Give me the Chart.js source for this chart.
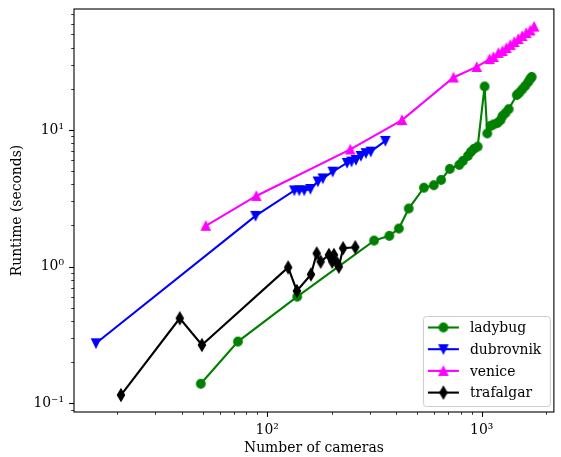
<!DOCTYPE html>
<html>
<head>
<meta charset="utf-8">
<script src="https://cdn.jsdelivr.net/npm/chart.js@4.4.0/dist/chart.umd.min.js"></script>
<style>
  html, body { margin: 0; padding: 0; background: #fff; }
</style>
</head>
<body>
<canvas id="chart" width="561" height="457"></canvas>
<script>
// ---- data ----
const ladybugCams  = [49, 73, 138, 315, 371, 411, 457, 538, 598, 647, 710, 786, 817, 862, 890, 919, 958, 1032, 1062, 1100, 1136, 1185, 1225, 1250, 1291, 1336, 1458, 1497, 1546, 1596, 1648, 1684, 1711];
const ladybugTimes = [0.139, 0.283, 0.603, 1.55, 1.68, 1.90, 2.66, 3.78, 3.94, 4.31, 5.19, 5.55, 5.93, 6.45, 6.90, 7.26, 7.55, 20.8, 9.43, 10.7, 10.97, 11.25, 11.8, 12.66, 13.3, 14.2, 18.0, 18.7, 19.8, 21.0, 22.4, 23.6, 24.4];

const dubrovnikCams  = [15.9, 88.2, 133.8, 141.1, 148.8, 159, 172.3, 181.7, 202, 235.7, 247.3, 259.4, 273.5, 288.5, 304, 355.6];
const dubrovnikTimes = [0.275, 2.35, 3.61, 3.61, 3.61, 3.70, 4.20, 4.42, 4.95, 5.74, 5.87, 6.03, 6.45, 6.76, 6.94, 8.31];

const veniceCams  = [51.7, 88.9, 244, 425, 739, 948, 1089, 1136, 1197, 1250, 1304, 1361, 1420, 1482, 1546, 1614, 1684, 1756];
const veniceTimes = [1.99, 3.29, 7.2, 11.8, 24.2, 28.9, 33.0, 34.2, 36.6, 37.8, 39.8, 41.9, 44.0, 46.3, 48.7, 51.2, 53.4, 57.0];

const trafalgarCams  = [20.8, 39.1, 49.6, 125.2, 137.5, 160, 170.1, 177.5, 194, 201, 204.7, 212, 215.8, 225.9, 257.5];
const trafalgarTimes = [0.115, 0.419, 0.267, 0.987, 0.664, 0.877, 1.249, 1.088, 1.218, 1.088, 1.218, 1.059, 1.0, 1.363, 1.387];

const xMajorTicks  = [100, 1000];
const xTickLabels  = ["10\u00B2", "10\u00B3"];
const xMinorTicks  = [20, 30, 40, 50, 60, 70, 80, 90, 200, 300, 400, 500, 600, 700, 800, 900, 2000];
const yMajorTicks  = [0.1, 1, 10];
const yTickLabels  = ["10\u207B\u00B9", "10\u2070", "10\u00B9"];
const yMinorTicks  = [0.09, 0.2, 0.3, 0.4, 0.5, 0.6, 0.7, 0.8, 0.9, 2, 3, 4, 5, 6, 7, 8, 9, 20, 30, 40, 50, 60, 70];

const fontFamily = "'DejaVu Serif', serif";
const fontSize = 13.9;

// ---- matplotlib-like marker glyphs ----
const makeMarker = (shape, color) => {
  const c = document.createElement("canvas");
  c.width = 18; c.height = 18;
  const g = c.getContext("2d");
  g.translate(9, 9);
  g.beginPath();
  if (shape === "up") {
    g.moveTo(0, -4.2); g.lineTo(4.2, 4.2); g.lineTo(-4.2, 4.2);
  } else if (shape === "down") {
    g.moveTo(0, 4.2); g.lineTo(4.2, -4.2); g.lineTo(-4.2, -4.2);
  } else if (shape === "thin_diamond") {
    g.moveTo(0, -5.9); g.lineTo(3.5, 0); g.lineTo(0, 5.9); g.lineTo(-3.5, 0);
  } else {
    g.arc(0, 0, 4.2, 0, Math.PI * 2);
  }
  g.closePath();
  g.fillStyle = color; g.fill();
  g.lineWidth = 1.4; g.strokeStyle = color; g.stroke();
  return c;
};

const SERIES = [
  { label: "ladybug",   xs: ladybugCams,   ys: ladybugTimes,   color: "#008000", marker: makeMarker("circle", "#008000") },
  { label: "dubrovnik", xs: dubrovnikCams, ys: dubrovnikTimes, color: "#0000ff", marker: makeMarker("down", "#0000ff") },
  { label: "venice",    xs: veniceCams,    ys: veniceTimes,    color: "#ff00ff", marker: makeMarker("up", "#ff00ff") },
  { label: "trafalgar", xs: trafalgarCams, ys: trafalgarTimes, color: "#000000", marker: makeMarker("thin_diamond", "#000000") }
];

// ---- frame, ticks and legend drawn matplotlib-style ----
const mplAxes = {
  id: "mplAxes",
  afterDraw(chart) {
    const { ctx, chartArea: a, scales } = chart;
    ctx.save();
    ctx.strokeStyle = "#000";

    // ticks (outward)
    const tick = (len, w, list, scale, horiz) => {
      ctx.lineWidth = w;
      list.forEach(v => {
        const p = Math.round(scale.getPixelForValue(v)) + 0.5;
        ctx.beginPath();
        if (horiz) { ctx.moveTo(p, a.bottom); ctx.lineTo(p, a.bottom + len); }
        else       { ctx.moveTo(a.left, p);   ctx.lineTo(a.left - len, p); }
        ctx.stroke();
      });
    };
    tick(4.9, 1.1, xMajorTicks, scales.x, true);
    tick(2.8, 0.8, xMinorTicks, scales.x, true);
    tick(4.9, 1.1, yMajorTicks, scales.y, false);
    tick(2.8, 0.8, yMinorTicks, scales.y, false);

    // spines
    ctx.lineWidth = 1.1;
    ctx.strokeRect(a.left, a.top, a.right - a.left, a.bottom - a.top);

    // legend (lower right)
    const boxW = 127, boxH = 90;
    const bx = a.right - 4 - boxW, by = a.bottom - 6 - boxH;
    ctx.beginPath();
    ctx.roundRect(bx + 0.5, by + 0.5, boxW, boxH, 3);
    ctx.fillStyle = "rgba(255,255,255,0.8)";
    ctx.fill();
    ctx.strokeStyle = "#cccccc";
    ctx.lineWidth = 1;
    ctx.stroke();

    ctx.font = `${fontSize}px ${fontFamily}`;
    ctx.textBaseline = "middle";
    ctx.textAlign = "left";
    SERIES.forEach((s, i) => {
      const y = by + 11.5 + i * 21.7;
      ctx.strokeStyle = s.color;
      ctx.lineWidth = 2.1;
      ctx.beginPath();
      ctx.moveTo(bx + 5, y); ctx.lineTo(bx + 36, y);
      ctx.stroke();
      ctx.drawImage(s.marker, bx + 20.5 - 9, y - 9);
      ctx.fillStyle = "#000";
      ctx.fillText(s.label, bx + 47, y + 1);
    });
    ctx.restore();
  }
};

const tickFont = { family: fontFamily, size: fontSize };

new Chart(document.getElementById("chart"), {
  type: "scatter",
  data: {
    datasets: SERIES.map((s, i) => ({
      label: s.label,
      data: s.xs.map((x, k) => ({ x, y: s.ys[k] })),
      showLine: true,
      borderColor: s.color,
      backgroundColor: s.color,
      borderWidth: 2.1,
      tension: 0,
      pointStyle: s.marker,
      pointRadius: 5,
      order: SERIES.length - i
    }))
  },
  options: {
    responsive: false,
    animation: false,
    layout: { padding: { top: 9, right: -1, left: 0, bottom: 0 } },
    plugins: { legend: { display: false }, tooltip: { enabled: false } },
    scales: {
      x: {
        type: "logarithmic",
        min: 12.56, max: 2172,
        grid: { display: false, drawTicks: false },
        border: { display: false },
        afterBuildTicks: (sc) => { sc.ticks = xMajorTicks.map(v => ({ value: v })); },
        afterFit: (sc) => { sc.height = 45; sc.paddingLeft = 0; sc.paddingRight = 0; },
        ticks: {
          autoSkip: false, maxRotation: 0, padding: 10,
          color: "#000", font: tickFont,
          callback: (v) => xTickLabels[xMajorTicks.indexOf(v)]
        },
        title: { display: true, text: "Number of cameras", color: "#000", font: tickFont, padding: { top: 0, bottom: 0 } }
      },
      y: {
        type: "logarithmic",
        min: 0.0864, max: 76.7,
        grid: { display: false, drawTicks: false },
        border: { display: false },
        afterBuildTicks: (sc) => { sc.ticks = yMajorTicks.map(v => ({ value: v })); },
        afterFit: (sc) => { sc.width = 74; sc.paddingTop = 0; sc.paddingBottom = 0; },
        ticks: {
          autoSkip: false, padding: 10,
          color: "#000", font: tickFont,
          callback: (v) => yTickLabels[yMajorTicks.indexOf(v)]
        },
        title: { display: true, text: "Runtime (seconds)", color: "#000", font: tickFont, padding: { top: 9, bottom: 0 } }
      }
    }
  },
  plugins: [mplAxes]
});
</script>
</body>
</html>
